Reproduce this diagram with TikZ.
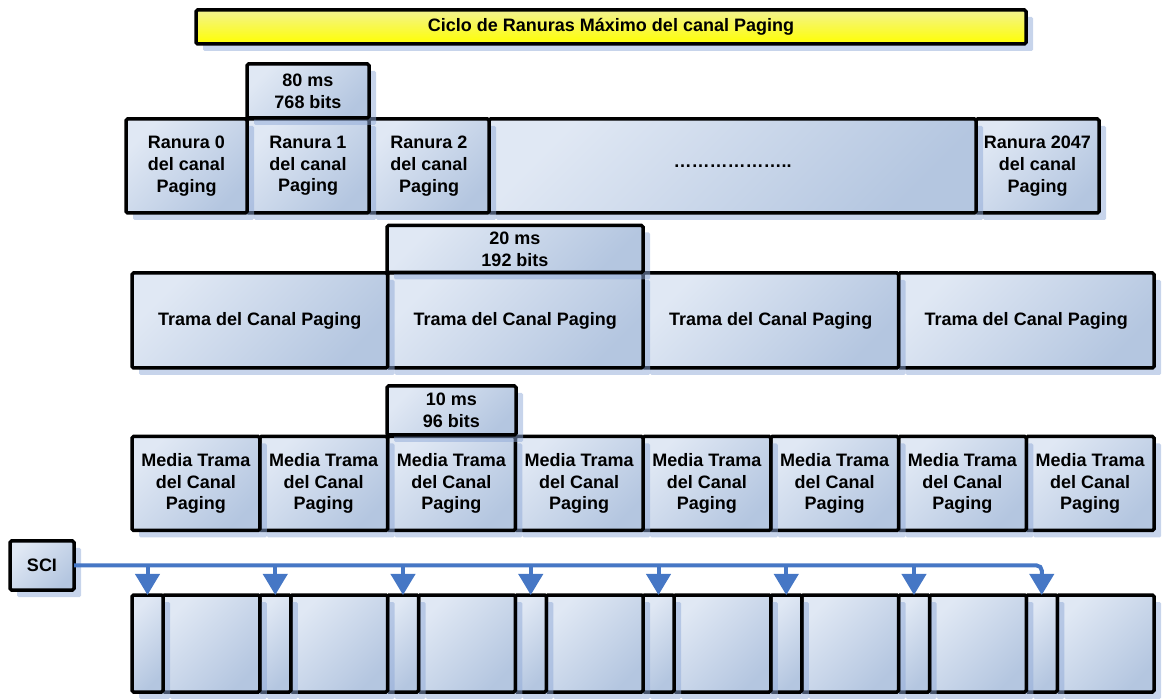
\documentclass[tikz,border=0pt]{standalone}
\usepackage{fontspec}
\setmainfont{Liberation Sans}
\usetikzlibrary{shadows,arrows.meta}
\definecolor{boxlight}{HTML}{E0E8F4}
\definecolor{boxdark}{HTML}{B4C6E0}
\definecolor{shadowblue}{HTML}{8FA9D8}
\definecolor{busblue}{HTML}{4677C5}
\definecolor{titletop}{HTML}{F2F290}
\definecolor{titlebot}{HTML}{FFFF00}
\begin{document}
\begin{tikzpicture}[x=1pt,y=-1pt,
    font=\fontsize{18}{21.7}\selectfont\bfseries,
    slotbox/.style={draw=black,line width=3.5pt,rounded corners=1.5pt,
      top color=boxlight,bottom color=boxdark,shading angle=45,
      drop shadow={shadow xshift=7pt,shadow yshift=-7pt,fill=shadowblue,opacity=.5},
      align=center,inner sep=0pt,outer sep=0pt},
    titlebox/.style={slotbox,top color=titletop,bottom color=titlebot},
    bus/.style={draw=busblue,line width=4pt},
    bustip/.style={-{Triangle[width=24pt,length=21pt]}}]
  \useasboundingbox (0,0) rectangle (1163,700);

  % cycle title
  \node[titlebox,minimum width=830pt,minimum height=34pt] (title) at (611,27)
    {Ciclo de Ranuras Máximo del canal Paging};

  % slots of the cycle
  \node[slotbox,minimum width=123pt,minimum height=94pt] (r2047) at (1037.5,166)
    {Ranura 2047\\del canal\\Paging};
  \node[slotbox,minimum width=487pt,minimum height=94pt] (rdots) at (732.5,166)
    {………………..};
  \node[slotbox,minimum width=120pt,minimum height=94pt] (r2) at (429,166)
    {Ranura 2\\del canal\\Paging};
  \node[slotbox,minimum width=122pt,minimum height=94pt] (r1) at (308,166)
    {Ranura 1\\del canal\\Paging};
  \node[slotbox,minimum width=121pt,minimum height=94pt] (r0) at (186.5,166)
    {Ranura 0\\del canal\\Paging};
  \node[slotbox,minimum width=122pt,minimum height=54pt] (head80) at (308,91)
    {80 ms\\768 bits};

  % frames
  \foreach \i in {3,2,1,0}
    \node[slotbox,minimum width=255.5pt,minimum height=95pt] (trama\i)
      at ({132+255.5*(\i+.5)},320.5) {Trama del Canal Paging};
  \node[slotbox,minimum width=256pt,minimum height=47pt] (head20) at (515,249)
    {20 ms\\192 bits};

  % half frames
  \foreach \i in {7,6,...,0}
    \node[slotbox,minimum width=127.75pt,minimum height=94pt] (media\i)
      at ({132+127.75*(\i+.5)},483.5) {Media Trama\\del Canal\\Paging};
  \node[slotbox,minimum width=129pt,minimum height=49pt] (head10) at (451.5,410.5)
    {10 ms\\96 bits};

  % SCI and the half frame contents
  \node[slotbox,minimum width=64pt,minimum height=49pt] (sci) at (42,565.5) {SCI};
  \foreach \i in {7,6,...,0} {
    \node[slotbox,minimum width=96.75pt,minimum height=97pt] (sd\i)
      at ({132+127.75*\i+79.375},643.5) {};
    \node[slotbox,minimum width=31pt,minimum height=97pt] (sc\i)
      at ({132+127.75*\i+15.5},643.5) {};
  }

  \draw[bus,bustip,rounded corners=5pt] (sci.east) -| (sc7.north);
  \foreach \i in {0,...,6}
    \draw[bus,bustip] (sci.east -| sc\i.north) -- (sc\i.north);
\end{tikzpicture}
\end{document}
